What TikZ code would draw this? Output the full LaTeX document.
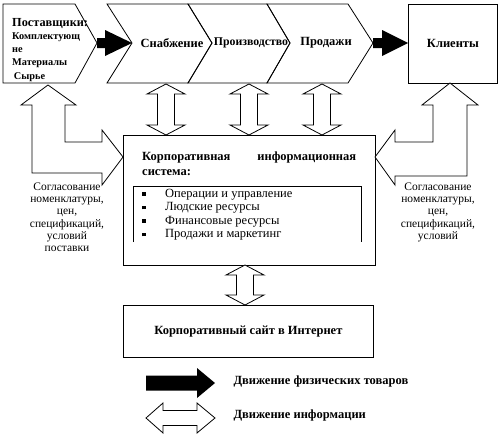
\documentclass[tikz,border=0pt]{standalone}
\usepackage{fontspec}
\setmainfont{Liberation Serif}
\usetikzlibrary{calc}

% solid arrow for the flow of goods: from #1 to #2, half shaft #3, half head #4, head length #5
\newcommand{\goodsarrow}[5]{%
	\fill let \p1=(#1), \p2=(#2) in
		(\x1,\y1+#3) -- (\x2-#5,\y1+#3) -- (\x2-#5,\y1+#4) -- (\x2,\y1)
		-- (\x2-#5,\y1-#4) -- (\x2-#5,\y1-#3) -- (\x1,\y1-#3) -- cycle;}
% hollow two-headed arrow for information, vertical: from #1 down to #2
\newcommand{\infovert}[2]{%
	\draw[info] let \p1=(#1), \p2=(#2) in
		(\x1,\y1) -- (\x1+19pt,\y1-10pt) -- (\x1+8.5pt,\y1-10pt) -- (\x1+8.5pt,\y2+10pt)
		-- (\x1+19pt,\y2+10pt) -- (\x1,\y2) -- (\x1-19pt,\y2+10pt) -- (\x1-8.5pt,\y2+10pt)
		-- (\x1-8.5pt,\y1-10pt) -- (\x1-19pt,\y1-10pt) -- cycle;}
\newcommand{\sqbullet}{\makebox[23pt][l]{\rule[1.5pt]{3.5pt}{3.5pt}}}

\begin{document}
\begin{tikzpicture}[
	x=1pt, y=-1pt,
	box/.style={draw, line width=0.8pt},
	info/.style={draw, fill=white, line width=0.8pt},
	lbl/.style={font=\bfseries\fontsize{12.5}{14}\selectfont},
	note/.style={align=center, font=\fontsize{11.5}{12.3}\selectfont},
	]
	\useasboundingbox (0,0) rectangle (498,439);

	% chain: supplier and value chain
	\draw[box] (3,4) -- (75,4) -- (97,43) -- (75,83) -- (3,83) -- cycle;
	\draw[box] (107,4) -- (188,4) -- (212,43) -- (188,83) -- (107,83) -- (132,43) -- cycle;
	\draw[box] (188,4) -- (267,4) -- (290,43) -- (267,83) -- (188,83) -- (212,43) -- cycle;
	\draw[box] (267,4) -- (348,4) -- (373,43) -- (348,83) -- (267,83) -- (290,43) -- cycle;

	\node[align=left, anchor=north west, inner sep=0pt, font=\bfseries\fontsize{10.3}{13.2}\selectfont] (sup) at (12,18)
		{{\fontsize{12.3}{13}\selectfont Поставщики:}\\Комплектующ\\не\\Материалы\\\,Сырье};
	\node[lbl] (snab) at (172,43) {Снабжение};
	\node[lbl, font=\bfseries\fontsize{11.8}{14}\selectfont] (proizv) at (251,43) {Производство};
	\node[lbl] (prod) at (326,43) {Продажи};
	\node[box, lbl, minimum width=89pt, minimum height=79pt, anchor=north west] (cli) at (408,4) {Клиенты};

	\coordinate (sup-e) at (97,43);
	\coordinate (snab-w) at (132,43);
	\coordinate (prod-e) at (373,43);
	\coordinate (sup-s) at (48,85);
	\coordinate (cli-s) at (450,83);
	\coordinate (snab-s) at (166,84);
	\coordinate (proizv-s) at (249,84);
	\coordinate (prod-s) at (322,84);

	% information system
	\node[box, minimum width=252pt, minimum height=130pt, anchor=north west] (corp) at (123,135) {};
	\coordinate (corp-l) at (123,157);
	\coordinate (corp-r) at (375,157);
	\coordinate (corp-b) at (245,265);
	\node[lbl, anchor=north west, align=left, inner sep=0pt, font=\bfseries\fontsize{12.5}{15}\selectfont] (corptitle) at (142,152)
		{\makebox[214pt]{Корпоративная\hfill информационная}\\система:};
	\draw[line width=0.8pt] (133,242) -- (133,186) -- (361,186) -- (361,242);
	\node[anchor=north west, align=left, inner sep=0pt, font=\fontsize{12.5}{13.5}\selectfont] (list) at (142,189)
		{\sqbullet Операции и управление\\
		 \sqbullet Людские ресурсы\\
		 \sqbullet Финансовые ресурсы\\
		 \sqbullet Продажи и маркетинг};

	\node[box, lbl, minimum width=250pt, minimum height=52pt, anchor=north west] (site) at (123,305)
		{Корпоративный сайт в Интернет};
	\coordinate (site-t) at (245,305);

	% flow of goods
	\goodsarrow{sup-e}{snab-w}{5pt}{13pt}{27pt}
	\goodsarrow{prod-e}{cli.west}{5pt}{13pt}{26pt}

	% flow of information
	\infovert{snab-s}{corp.north}
	\infovert{proizv-s}{corp.north}
	\infovert{prod-s}{corp.north}
	\infovert{corp-b}{site-t}

	\draw[info] let \p1=(sup-s), \p2=(corp-l) in
		(\x1,\y1) -- (\x1+28pt,\y1-20pt) -- (\x1+17pt,\y1-20pt) -- (\x1+17pt,\y2+15pt)
		-- (\x2-21pt,\y2+15pt) -- (\x2-21pt,\y2+27pt) -- (\x2,\y2) -- (\x2-21pt,\y2-28pt)
		-- (\x2-21pt,\y2-16pt) -- (\x1-16pt,\y2-16pt) -- (\x1-16pt,\y1-20pt) -- (\x1-27pt,\y1-20pt) -- cycle;
	\draw[info] let \p1=(cli-s), \p2=(corp-r) in
		(\x1,\y1) -- (\x1+28pt,\y1-22pt) -- (\x1+17pt,\y1-22pt) -- (\x1+17pt,\y2-19pt)
		-- (\x2+20pt,\y2-19pt) -- (\x2+20pt,\y2-28pt) -- (\x2,\y2) -- (\x2+20pt,\y2+27pt)
		-- (\x2+20pt,\y2+15pt) -- (\x1-17pt,\y2+15pt) -- (\x1-17pt,\y1-22pt) -- (\x1-28pt,\y1-22pt) -- cycle;

	\node[note, anchor=north] (agree-l) at (67,179)
		{Согласование\\номенклатуры,\\цен,\\спецификаций,\\условий\\поставки};
	\node[note, anchor=north] (agree-r) at (438,179)
		{Согласование\\номенклатуры,\\цен,\\спецификаций,\\условий};

	% legend
	\coordinate (lg-goods-s) at (146,383);
	\coordinate (lg-goods-e) at (215,383);
	\coordinate (lg-info-s) at (146,418);
	\coordinate (lg-info-e) at (215,418);
	\goodsarrow{lg-goods-s}{lg-goods-e}{7.5pt}{15pt}{18pt}
	\draw[info] let \p1=(lg-info-s), \p2=(lg-info-e) in
		(\x1,\y1) -- (\x1+17pt,\y1+15pt) -- (\x1+17pt,\y1+7.5pt) -- (\x2-18pt,\y1+7.5pt)
		-- (\x2-18pt,\y1+15pt) -- (\x2,\y1) -- (\x2-18pt,\y1-15pt) -- (\x2-18pt,\y1-7.5pt)
		-- (\x1+17pt,\y1-7.5pt) -- (\x1+17pt,\y1-15pt) -- cycle;
	\node[lbl, anchor=west] (lg-goods) at (230,381) {Движение физических товаров};
	\node[lbl, anchor=west] (lg-info) at (230,415) {Движение информации};
\end{tikzpicture}
\end{document}
